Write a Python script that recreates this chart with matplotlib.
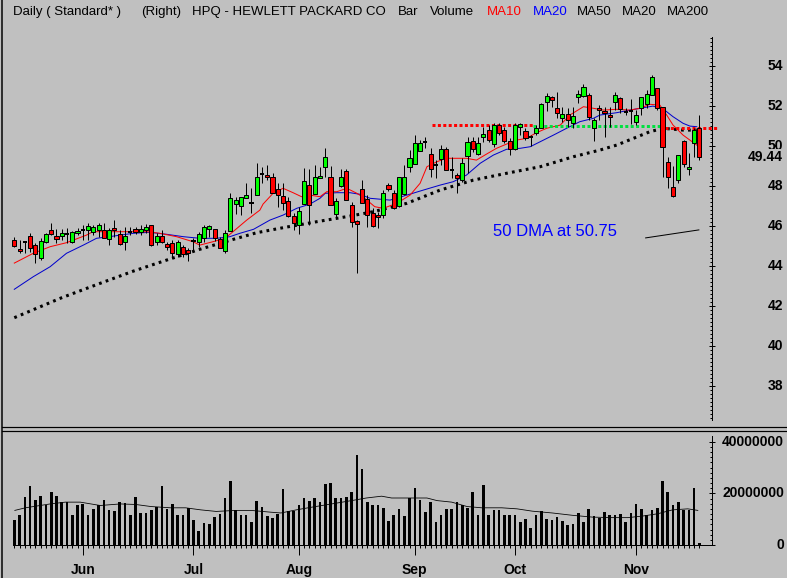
import matplotlib
matplotlib.use('Agg')
import matplotlib.pyplot as plt
import matplotlib.transforms as mtransforms
from matplotlib.lines import Line2D
from matplotlib.ticker import FixedLocator, NullLocator
import numpy as np

# ------------------------------------------------------------------ data
opens = [45.29, 44.84, 45.20, 45.49, 45.04, 44.40, 45.17, 45.77, 45.47, 45.47,
         45.57, 45.17, 45.62, 45.80, 45.77, 45.70, 45.77, 45.77, 45.32, 45.89,
         45.57, 45.16, 45.70, 45.82, 45.69, 45.77, 46.02, 45.17, 45.47, 45.07,
         45.12, 44.59, 44.92, 44.79, 45.25, 45.20, 45.37, 45.82, 45.82, 45.32,
         44.75, 45.75, 47.07, 47.00, 47.37, 47.12, 47.52, 48.57, 48.52, 48.42,
         47.85, 47.47, 47.22, 46.47, 46.02, 47.09, 48.04, 47.59, 48.37, 48.92,
         48.45, 46.59, 48.00, 48.72, 47.02, 46.24, 47.82, 47.34, 46.62, 46.53,
         46.54, 48.02, 47.62, 46.99, 47.59, 48.95, 49.09, 49.75, 50.20, 49.57,
         49.04, 49.32, 49.82, 48.79, 48.52, 48.29, 49.49, 50.25, 49.59, 50.42,
         50.79, 50.09, 51.04, 50.79, 50.24, 49.82, 50.95, 50.75, 50.45, 50.65,
         50.90, 52.20, 52.42, 51.87, 51.40, 51.57, 51.12, 52.42, 52.50, 52.54,
         50.87, 51.87, 51.75, 51.54, 52.20, 52.37, 51.70, 51.75, 51.20, 51.87,
         52.09, 52.54, 52.87, 51.95, 49.17, 47.92, 48.29, 50.22, 48.82, 50.12,
         50.90]
highs = [45.45, 45.29, 45.20, 45.65, 45.12, 45.37, 45.65, 46.15, 45.82, 45.82,
         45.87, 45.74, 45.87, 46.04, 46.12, 46.04, 46.15, 46.15, 45.87, 46.29,
         45.79, 45.95, 45.95, 45.95, 46.04, 46.09, 46.05, 45.62, 45.79, 45.20,
         45.29, 45.29, 45.04, 44.87, 45.37, 45.70, 46.04, 46.04, 45.85, 45.42,
         45.79, 47.65, 47.45, 47.45, 48.12, 47.87, 49.12, 48.92, 49.04, 48.65,
         48.15, 48.12, 47.45, 46.62, 46.92, 48.87, 48.84, 49.04, 48.95, 49.87,
         48.99, 47.37, 48.82, 48.82, 47.20, 46.29, 48.29, 47.54, 46.87, 46.70,
         47.79, 48.12, 47.79, 48.45, 49.04, 49.79, 50.54, 50.29, 50.45, 49.87,
         49.29, 50.04, 49.92, 49.45, 48.62, 49.37, 50.45, 50.45, 50.45, 50.95,
         51.04, 51.12, 51.12, 50.95, 50.37, 51.12, 51.12, 50.87, 50.54, 51.04,
         52.12, 52.65, 52.49, 52.70, 51.95, 51.87, 51.95, 52.79, 53.09, 52.65,
         51.37, 52.04, 51.95, 51.95, 52.70, 52.45, 51.87, 52.32, 51.79, 52.45,
         52.79, 53.54, 52.87, 51.95, 49.45, 48.99, 49.54, 50.29, 49.62, 50.87,
         51.54]
lows = [44.95, 44.62, 44.62, 44.70, 44.12, 44.29, 45.12, 45.54, 45.12, 45.29,
        45.12, 45.12, 45.54, 45.29, 45.29, 45.54, 45.45, 45.37, 45.04, 45.45,
        45.04, 44.79, 45.54, 45.60, 45.54, 45.62, 45.00, 45.04, 45.12, 44.79,
        44.37, 44.42, 44.42, 44.25, 44.70, 44.95, 45.20, 45.42, 45.25, 44.87,
        44.62, 45.75, 46.59, 46.54, 47.37, 46.62, 47.52, 48.12, 48.29, 47.62,
        46.95, 46.79, 46.42, 45.79, 45.57, 47.09, 46.04, 47.59, 48.37, 48.45,
        47.04, 46.45, 47.95, 47.29, 45.95, 43.62, 47.15, 45.92, 45.95, 45.87,
        46.37, 47.75, 46.82, 46.95, 47.54, 48.70, 49.09, 49.75, 49.87, 48.45,
        48.37, 49.04, 48.79, 48.37, 47.62, 48.20, 48.62, 49.70, 49.54, 50.20,
        50.20, 49.95, 50.54, 50.12, 49.54, 49.79, 50.54, 50.29, 49.99, 50.54,
        50.90, 51.75, 51.95, 51.37, 51.20, 50.95, 50.87, 52.12, 52.45, 51.29,
        50.24, 51.29, 50.45, 50.95, 51.79, 51.62, 51.54, 51.09, 51.04, 51.54,
        51.87, 52.54, 51.79, 48.45, 47.87, 47.42, 48.12, 48.95, 48.54, 49.45,
        49.29]
closes = [45.00, 44.72, 45.20, 44.87, 44.57, 45.24, 45.59, 45.60, 45.35, 45.64,
          45.57, 45.67, 45.74, 45.80, 45.97, 45.92, 46.04, 45.40, 45.77, 45.77,
          45.07, 45.49, 45.70, 45.69, 45.85, 45.92, 45.02, 45.47, 45.17, 44.92,
          44.62, 45.17, 44.57, 44.62, 45.25, 45.57, 45.92, 45.97, 45.37, 44.90,
          45.62, 47.37, 47.29, 47.42, 47.54, 47.12, 48.42, 48.57, 48.42, 47.62,
          47.54, 47.12, 46.49, 46.12, 46.72, 48.22, 47.04, 48.45, 48.47, 49.42,
          47.04, 47.22, 48.42, 47.29, 46.19, 46.09, 47.15, 46.54, 46.00, 46.42,
          47.65, 47.82, 46.87, 48.42, 48.45, 49.37, 50.15, 50.12, 50.20, 48.85,
          49.04, 49.85, 48.79, 48.79, 48.37, 49.15, 50.19, 49.82, 50.12, 50.57,
          50.29, 51.04, 50.62, 50.24, 49.82, 51.04, 51.07, 50.37, 50.45, 50.90,
          52.07, 52.49, 52.27, 51.62, 51.57, 51.29, 51.50, 52.57, 52.94, 51.42,
          51.29, 51.79, 51.62, 51.42, 52.54, 51.82, 51.70, 51.75, 51.54, 52.42,
          52.59, 53.42, 51.90, 49.95, 48.42, 47.50, 49.52, 49.07, 48.92, 50.79,
          49.44]
volume_m = [9.6, 11.7, 18.7, 22.9, 17.6, 19.1, 15.3, 20.4, 19.1, 16.6,
            16.6, 11.5, 15.3, 15.7, 11.5, 14.0, 15.3, 17.6, 13.6, 13.1,
            16.8, 16.3, 11.5, 18.7, 12.4, 12.4, 13.6, 14.6, 22.9, 14.0,
            15.7, 11.5, 11.5, 14.4, 9.6, 5.5, 8.7, 8.3, 10.8, 12.1,
            18.2, 24.8, 13.6, 11.8, 11.8, 8.9, 17.2, 14.9, 11.2, 10.6,
            12.1, 21.7, 13.1, 13.1, 15.3, 18.2, 17.2, 18.2, 16.6, 23.6,
            23.9, 18.2, 18.2, 18.7, 20.4, 35.0, 29.3, 16.8, 15.3, 15.3,
            14.4, 9.3, 11.5, 14.0, 11.1, 18.2, 22.0, 17.5, 12.7, 16.6,
            8.9, 11.5, 14.0, 14.0, 16.6, 15.3, 14.4, 20.4, 11.5, 23.3,
            11.5, 13.6, 13.6, 11.5, 11.5, 11.5, 8.9, 10.2, 6.6, 11.8,
            13.1, 10.2, 9.6, 10.8, 9.3, 7.9, 8.3, 12.4, 8.9, 14.0,
            11.2, 10.6, 12.7, 11.8, 11.8, 12.1, 8.9, 12.4, 15.7, 14.0,
            11.5, 13.6, 14.4, 24.8, 20.4, 15.3, 16.8, 13.6, 13.6, 21.9, 0.9]

ma10_idx = [0, 3.6, 6.8, 9.9, 13.7, 14.9, 18.7, 25.2, 27.6, 30.8, 33.9, 35.2, 37.7,
            40.0, 41.5, 44.1, 46.6, 47.2, 49.1, 51.0, 52.9, 54.5, 56.1, 58.0, 59.3,
            61.2, 63.1, 65.0, 66.5, 68.4, 70.0, 72.6, 75.1, 77.0, 78.3, 80.2, 82.0,
            83.9, 85.8, 87.7, 89.6, 91.5, 93.4, 95.3, 97.2, 99.1, 101.0, 103.6,
            105.4, 108.0, 109.9, 111.8, 114.3, 116.8, 118.7, 120.6, 122.5, 123.8,
            125.0, 126.9, 128.2, 129.5]
ma10_val = [44.13, 44.62, 44.95, 45.15, 45.53, 45.70, 45.70, 45.70, 45.62, 45.45,
            45.20, 45.03, 45.20, 45.37, 45.70, 46.28, 46.78, 47.08, 47.62, 47.87,
            47.65, 47.45, 47.53, 47.45, 47.70, 47.70, 47.87, 47.62, 47.37, 46.95,
            46.87, 47.12, 47.53, 48.12, 48.95, 49.20, 49.37, 49.37, 49.37, 49.28,
            49.58, 49.87, 50.08, 50.28, 50.37, 50.65, 50.87, 51.03, 51.53, 51.95,
            51.87, 51.78, 51.82, 51.78, 51.87, 52.07, 52.03, 51.53, 51.03, 50.53,
            50.28, 50.03]
ma20_idx = [0, 3.6, 6.8, 9.9, 13.1, 15.6, 18.8, 22.6, 25.7, 28.9, 32.1, 35.2, 38.4,
            40.9, 42.8, 45.4, 48.5, 51.0, 53.6, 56.1, 58.0, 59.0, 61.2, 63.7, 65.6,
            67.5, 71.3, 74.5, 77.6, 80.8, 83.3, 85.8, 88.4, 90.9, 93.4, 96.0, 97.9,
            99.8, 102.3, 104.8, 107.3, 109.9, 111.1, 114.3, 116.8, 119.4, 121.2,
            123.2, 125.0, 126.9, 128.2, 129.5]
ma20_val = [42.82, 43.45, 43.95, 44.62, 45.03, 45.37, 45.48, 45.62, 45.67, 45.57,
            45.45, 45.37, 45.37, 45.45, 45.62, 45.82, 46.28, 46.53, 46.87, 47.08,
            47.37, 47.62, 47.65, 47.65, 47.57, 47.37, 47.28, 47.53, 47.78, 48.03,
            48.20, 48.53, 49.12, 49.53, 49.82, 49.87, 49.95, 50.20, 50.53, 50.87,
            51.20, 51.37, 51.53, 51.65, 51.78, 51.90, 51.98, 51.82, 51.45, 51.12,
            50.98, 50.95]
ma50_idx = [0, 9.0, 16.3, 22.6, 28.9, 35.2, 41.6, 46.0, 51.0, 57.4, 63.7, 68.1,
            74.5, 80.8, 87.1, 93.4, 99.8, 106.1, 111.1, 114.3, 120.6, 123.2, 126.9,
            129.5]
ma50_val = [41.40, 42.40, 43.12, 43.73, 44.28, 44.82, 45.32, 45.65, 45.90, 46.20,
            46.48, 46.70, 47.12, 47.78, 48.28, 48.62, 48.95, 49.45, 49.78, 50.03,
            50.70, 50.87, 50.78, 50.78]
volma_idx = [0.1, 2.1, 6.8, 9.7, 12.5, 16.3, 20.1, 23.0, 25.9, 29.7, 32.5, 35.4,
             38.3, 42.1, 44.9, 48.7, 50.6, 53.5, 56.3, 60.2, 64.0, 66.8, 69.7, 71.6,
             75.4, 78.3, 80.2, 83.0, 85.9, 88.7, 92.5, 95.4, 98.3, 102.1, 105.9,
             109.7, 113.5, 116.4, 119.2, 122.1, 124.9, 127.8, 129.7]
volma_val = [13.4, 14.4, 15.9, 16.6, 16.6, 15.3, 15.9, 15.7, 14.9, 14.4, 14.4, 13.6,
             13.0, 13.4, 13.4, 12.7, 12.4, 13.6, 14.6, 15.9, 17.2, 18.2, 18.9, 18.2,
             18.2, 18.2, 17.2, 16.6, 14.9, 14.4, 14.4, 14.0, 13.1, 12.4, 11.5, 10.8,
             10.6, 10.6, 11.2, 12.1, 13.6, 14.0, 13.4]

month_labels = ['Jun', 'Jul', 'Aug', 'Sep', 'Oct', 'Nov']
month_idx = [13, 34, 54, 76, 95, 118]
price_ticks = [38, 40, 42, 44, 46, 48, 50, 52, 54]
vol_ticks_m = [0, 20, 40]
vol_tick_labels = ['0', '20000000', '40000000']
last_price_label = '49.44'

# horizontal dotted levels: (start idx, end idx, level, colour)
level_segments = [(79.2, 98.5, 51.03, '#ff0000'),
                  (98.5, 123.5, 51.00, '#00e040'),
                  (123.5, 133.5, 50.88, '#ff0000')]
trend_idx = [119.8, 129.9]
trend_val = [45.39, 45.79]
note_text = '50 DMA at 50.75'
note_pos = (90.8, 45.73)

title_parts = [("Daily ( Standard* )", 12.6, 'black'), ("(Right)", 140.7, 'black'),
               ("HPQ - HEWLETT PACKARD CO", 192, 'black'), ("Bar", 398, 'black'),
               ("Volume", 429.6, 'black'), ("MA10", 486.4, '#ff0000'),
               ("MA20", 532.7, '#0000ff'), ("MA50", 577, 'black'),
               ("MA20", 622, 'black'), ("MA200", 667.3, 'black')]

# ------------------------------------------------------------------ layout
plt.rcParams['font.family'] = ['Liberation Sans', 'DejaVu Sans']
BG = '#c0c0c0'
W, H = 787, 578
PX = 0.72  # points per pixel at dpi 100

fig = plt.figure(figsize=(W / 100, H / 100), dpi=100, facecolor=BG)

def fx(px):
    return px / W

def fy(py):
    return 1 - py / H

X0, DX = 14.3, 5.27          # pixel of first bar, pixels per bar
L, R = 8, 712
xlim = ((L - X0) / DX, (R - X0) / DX)

def p_of(py):
    return 54 - (py - 65.7) / 20.0

def v_of(py):
    return (545 - py) / 51.65 * 20.0

n = len(closes)
idx = np.arange(n)

# ------------------------------------------------------------------ price panel
PT, PB = 20, 425
ax = fig.add_axes([fx(L), fy(PB), fx(R) - fx(L), fy(PT) - fy(PB)])
ax.set_facecolor('none')
ax.set_xlim(*xlim)
ax.set_ylim(p_of(PB), p_of(PT))
for s in ['left', 'top', 'bottom']:
    ax.spines[s].set_visible(False)
ax.spines['right'].set_bounds(p_of(420), p_of(37))
ax.spines['right'].set_linewidth(1.0 * PX)
ax.xaxis.set_major_locator(NullLocator())
ax.yaxis.set_major_locator(FixedLocator(price_ticks))
ax.yaxis.set_minor_locator(FixedLocator(np.arange(36.4, 55.41, 0.2)))
ax.tick_params(axis='y', which='both', left=False, right=True, labelleft=False,
               labelright=False, width=1.0 * PX)
ax.tick_params(axis='y', which='major', direction='inout', length=6 * PX)
ax.tick_params(axis='y', which='minor', direction='in', length=2.5 * PX)

# moving averages
ax.plot(ma50_idx, ma50_val, color='black', lw=2.2, linestyle=(0, (0.9, 1.4)), zorder=2)
ax.plot(ma20_idx, ma20_val, color='#0000cc', lw=1.0 * PX, zorder=2)
ax.plot(ma10_idx, ma10_val, color='#ff0000', lw=1.0 * PX, zorder=2)

for x0, x1, lev, col in level_segments:
    ax.plot([x0, x1], [lev, lev], color=col, lw=3 * PX, linestyle=(0, (1, 0.8)),
            solid_capstyle='butt', dash_capstyle='butt', clip_on=False, zorder=2)

# candles
o = np.array(opens); c = np.array(closes)
hi = np.array(highs); lo = np.array(lows)
ax.vlines(idx, lo, hi, color='black', lw=1.0 * PX, zorder=3)
up = c > o
dn = c < o
dj = c == o
bw = 0.78
ax.bar(idx[up], (c - o)[up], bottom=o[up], width=bw, color='#00ff00',
       edgecolor='black', linewidth=1.0 * PX, zorder=4)
ax.bar(idx[dn], (o - c)[dn], bottom=c[dn], width=bw, color='#ff0000',
       edgecolor='black', linewidth=1.0 * PX, zorder=4)
ax.hlines(c[dj], idx[dj] - bw / 2, idx[dj] + bw / 2, color='black', lw=2 * PX, zorder=4)

ax.plot(trend_idx, trend_val, color='black', lw=1.0 * PX, zorder=3)
ax.text(note_pos[0], note_pos[1], note_text, color='#0000ff', fontsize=12,
        ha='left', va='center', zorder=5)

trans_p = mtransforms.blended_transform_factory(fig.transFigure, ax.transData)
for t in price_ticks:
    ax.text(fx(783), t, f"{t}", transform=trans_p, ha='right', va='center',
            fontsize=10, fontweight='bold', clip_on=False)
# last-price tag drawn over the axis label it sits on (as in the source chart)
ax.text(fx(783), float(last_price_label), last_price_label, transform=trans_p,
        ha='right', va='center', fontsize=10, fontweight='bold', clip_on=False,
        zorder=6, bbox=dict(boxstyle='square,pad=0.05', facecolor=BG, edgecolor='none'))

# ------------------------------------------------------------------ volume panel
VT, VB = 432, 548
axv = fig.add_axes([fx(L), fy(VB), fx(R) - fx(L), fy(VT) - fy(VB)])
axv.set_facecolor('none')
axv.set_xlim(*xlim)
axv.set_ylim(v_of(VB), v_of(VT))
for s in ['left', 'top']:
    axv.spines[s].set_visible(False)
axv.spines['bottom'].set_position(('data', 0))
axv.spines['bottom'].set_bounds((12.5 - X0) / DX, xlim[1])
axv.spines['right'].set_bounds(0, v_of(436))
for s in ['bottom', 'right']:
    axv.spines[s].set_linewidth(1.0 * PX)

axv.bar(idx, volume_m, width=0.5, color='black', zorder=3)
axv.plot(volma_idx, volma_val, color='black', lw=0.8 * PX, zorder=4)

axv.xaxis.set_major_locator(FixedLocator(month_idx))
axv.xaxis.set_minor_locator(FixedLocator(idx))
axv.set_xticklabels(month_labels, fontsize=10, fontweight='bold')
axv.tick_params(axis='x', which='major', direction='out', length=10 * PX,
                width=1.0 * PX, pad=6)
axv.tick_params(axis='x', which='minor', direction='out', length=3 * PX, width=1.0 * PX)

axv.yaxis.set_major_locator(FixedLocator(vol_ticks_m))
axv.yaxis.set_minor_locator(FixedLocator(np.arange(2, 42, 2)))
axv.tick_params(axis='y', which='both', left=False, right=True, labelleft=False,
                labelright=False, width=1.0 * PX)
axv.tick_params(axis='y', which='major', direction='inout', length=6 * PX)
axv.tick_params(axis='y', which='minor', direction='in', length=2.5 * PX)

trans_v = mtransforms.blended_transform_factory(fig.transFigure, axv.transData)
for t, lab in zip(vol_ticks_m, vol_tick_labels):
    axv.text(fx(784), t, lab, transform=trans_v, ha='right', va='center',
             fontsize=10, fontweight='bold', clip_on=False)

# ------------------------------------------------------------------ title & frame
for txt, xp, col in title_parts:
    fig.text(fx(xp), fy(12), txt, color=col, fontsize=9.5, ha='left', va='center')

fig.add_artist(Line2D([fx(1.5), fx(1.5)], [0, 1], color='black', lw=1.5 * PX))
fig.add_artist(Line2D([fx(1.5), 1], [fy(427), fy(427)], color='black', lw=1.2 * PX))
fig.add_artist(Line2D([fx(1.5), 1], [fy(430.5), fy(430.5)], color='black', lw=1.2 * PX))

fig.savefig('out.png', dpi=100, facecolor=BG)
